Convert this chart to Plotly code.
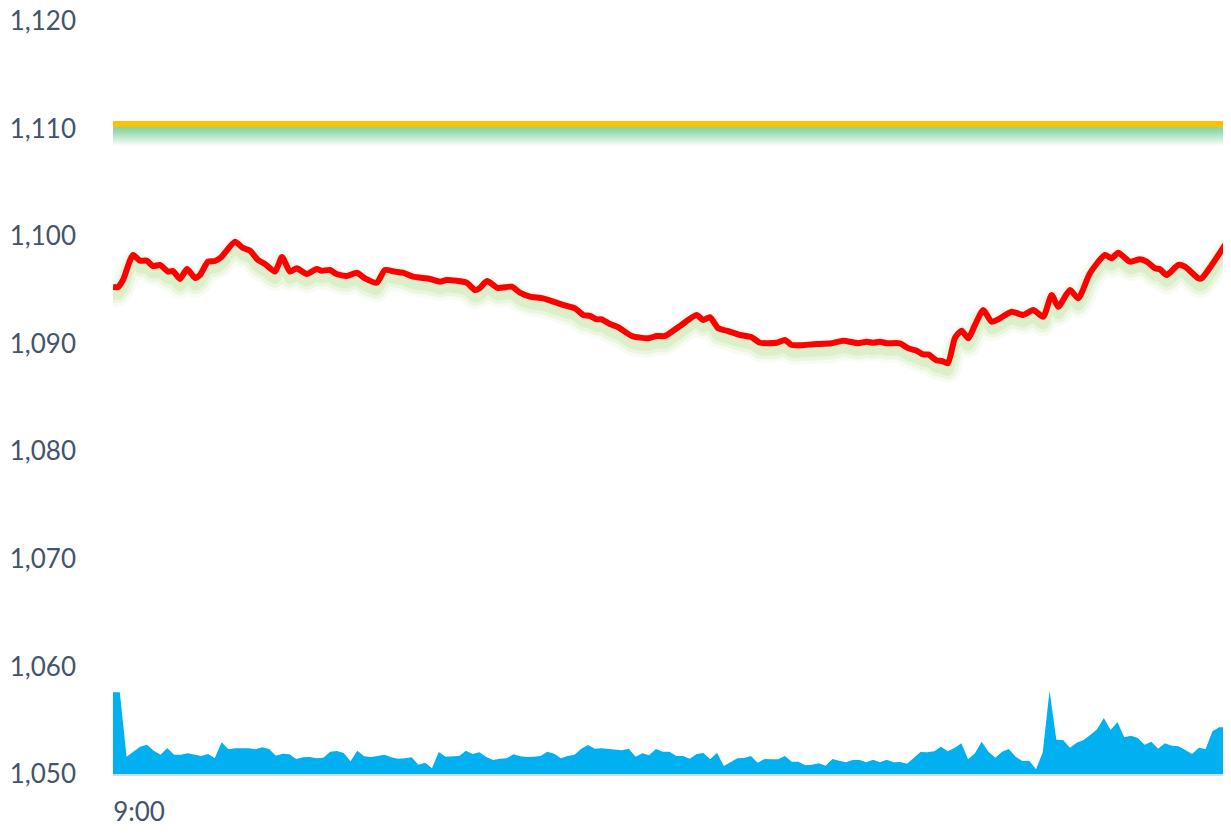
import plotly.graph_objects as go

# ---- data ----
vol_minutes = list(range(165))  # minutes after 9:00
volume = [
    76, 76, 16.1, 20.7, 25.4, 27.2, 21.7, 17.9, 24.2, 17.9,
    17.9, 19.3, 17.9, 16.7, 18.6, 14.9, 29.5, 23.0, 23.9, 23.9,
    23.9, 23.0, 24.8, 23.3, 17.0, 18.9, 18.3, 14.0, 15.5, 15.8,
    14.6, 15.2, 20.7, 21.4, 19.5, 11.8, 21.7, 16.5, 15.8, 16.7,
    17.9, 15.5, 14.2, 14.6, 15.5, 8.6, 10.5, 5.3, 20.5, 16.1,
    16.1, 16.7, 21.7, 18.6, 20.2, 15.8, 13.0, 14.2, 14.6, 18.3,
    16.5, 15.8, 16.1, 16.7, 20.7, 18.9, 14.6, 16.7, 17.9, 23.5,
    27.0, 23.5, 23.9, 23.3, 23.3, 22.0, 23.5, 16.1, 19.3, 17.4,
    23.3, 20.7, 20.7, 16.7, 16.7, 14.2, 18.6, 19.5, 13.7, 19.8,
    7.4, 10.9, 14.6, 14.9, 16.7, 10.5, 14.0, 13.7, 13.7, 16.7,
    11.4, 11.4, 8.1, 8.6, 10.0, 7.7, 14.0, 12.4, 10.9, 13.0,
    13.0, 10.9, 13.3, 10.9, 13.3, 10.9, 11.2, 9.6, 15.5, 20.5,
    20.2, 21.1, 25.4, 21.1, 24.2, 28.6, 13.7, 19.3, 30.0, 20.7,
    15.2, 20.7, 23.3, 16.1, 12.1, 12.4, 4.4, 20.2, 77.5, 31.9,
    31.6, 24.5, 29.1, 31.6, 36.3, 41.6, 52.1, 40.9, 48.4, 34.1,
    35.6, 33.5, 27.2, 30.0, 23.5, 28.6, 26.3, 25.8, 22.3, 18.6,
    24.5, 23.3, 39.7, 43.4, 43.7,
]

price_t = [
    0.0, 0.74, 1.47, 2.95, 3.98, 4.97, 5.89, 6.92, 8.10, 8.84,
    9.87, 10.90, 12.08, 12.82, 14.00, 15.03, 16.02, 17.98, 19.15, 20.19,
    21.36, 22.40, 23.87, 24.90, 26.08, 27.07, 28.54, 30.01, 30.75, 31.97,
    32.96, 34.43, 35.91, 37.13, 38.85, 40.08, 41.55, 42.73, 44.20, 46.71,
    48.18, 49.17, 52.11, 53.34, 54.07, 55.11, 56.73, 58.75, 59.97, 61.44,
    63.36, 65.37, 66.85, 68.07, 69.29, 70.28, 71.27, 72.00, 73.23, 74.45,
    76.43, 78.87, 80.11, 81.33, 83.54, 86.00, 86.97, 87.96, 89.19, 90.42,
    92.38, 94.11, 95.33, 97.79, 99.01, 100.00, 103.68, 105.89, 107.60, 109.81,
    111.05, 112.02, 113.01, 114.00, 115.96, 117.18, 118.42, 119.39, 120.13, 121.37,
    122.15, 123.03, 124.06, 125.05, 126.02, 127.01, 128.23, 129.47, 130.69, 132.42,
    134.12, 135.60, 137.07, 138.31, 139.28, 141.00, 142.23, 143.95, 146.16, 147.15,
    148.12, 149.85, 151.32, 152.31, 153.54, 154.27, 155.26, 156.97, 157.96, 159.92,
    160.42, 161.90, 163.86, 164.6,
]
price_v = [
    1095.27, 1095.27, 1095.92, 1098.25, 1097.72, 1097.72, 1097.22, 1097.32, 1096.70, 1096.76,
    1096.02, 1096.95, 1096.11, 1096.39, 1097.63, 1097.69, 1098.09, 1099.48, 1098.90, 1098.65,
    1097.78, 1097.41, 1096.70, 1098.06, 1096.70, 1097.01, 1096.48, 1096.95, 1096.79, 1096.85,
    1096.48, 1096.30, 1096.60, 1096.08, 1095.67, 1096.85, 1096.70, 1096.60, 1096.23, 1096.02,
    1095.77, 1095.92, 1095.67, 1094.99, 1095.18, 1095.83, 1095.18, 1095.30, 1094.74, 1094.37,
    1094.22, 1093.81, 1093.51, 1093.29, 1092.67, 1092.58, 1092.27, 1092.27, 1091.83, 1091.53,
    1090.72, 1090.50, 1090.72, 1090.72, 1091.65, 1092.67, 1092.20, 1092.46, 1091.43, 1091.21,
    1090.81, 1090.60, 1090.09, 1090.09, 1090.35, 1089.88, 1089.97, 1090.04, 1090.28, 1090.04,
    1090.19, 1090.09, 1090.19, 1090.04, 1090.04, 1089.57, 1089.35, 1089.00, 1089.00, 1088.44,
    1088.39, 1088.18, 1090.53, 1091.21, 1090.50, 1091.74, 1093.13, 1092.05, 1092.36, 1092.98,
    1092.67, 1093.13, 1092.51, 1094.53, 1093.44, 1094.99, 1094.22, 1096.55, 1098.25, 1097.94,
    1098.46, 1097.63, 1097.85, 1097.63, 1097.01, 1096.92, 1096.39, 1097.32, 1097.16, 1096.08,
    1096.08, 1097.32, 1099.18, 1099.80,
]

ref_level = 1110.43
y_ticks = [1050, 1060, 1070, 1080, 1090, 1100, 1110, 1120]
x_tick_vals = [0]
x_tick_text = ["9:00"]

# ---- styles ----
FONT = "Lato"
LABEL_COLOR = "#44546A"

fig = go.Figure()

# volume area
fig.add_trace(go.Scatter(
    x=vol_minutes, y=volume, yaxis="y2", mode="lines",
    line=dict(width=0, color="#00B0F0"), fill="tozeroy", fillcolor="#00B0F0",
    hoverinfo="skip", showlegend=False))

# glow under the reference line
x_ends = [vol_minutes[0], vol_minutes[-1]]
glow_top = ref_level - 0.2
glow_bot = ref_level - 2.1
fig.add_trace(go.Scatter(x=x_ends, y=[glow_top, glow_top], mode="lines",
                         line=dict(width=0), hoverinfo="skip", showlegend=False))
fig.add_trace(go.Scatter(
    x=x_ends, y=[glow_bot, glow_bot], mode="lines", line=dict(width=0),
    fill="tonexty",
    fillgradient=dict(type="vertical",
                      colorscale=[[0, "rgba(150,220,175,0)"], [0.4, "rgba(140,215,165,0.5)"],
                                  [0.75, "rgba(130,210,158,0.85)"], [1, "rgba(125,208,152,0.95)"]],
                      start=glow_bot, stop=glow_top),
    hoverinfo="skip", showlegend=False))

# glow under the price line
shifted = [v - 0.7 for v in price_v]
for w, a in [(24, 0.08), (17, 0.11), (10, 0.16)]:
    fig.add_trace(go.Scatter(
        x=price_t, y=shifted, mode="lines",
        line=dict(color=f"rgba(150,205,90,{a})", width=w, shape="spline", smoothing=0.6),
        hoverinfo="skip", showlegend=False))

# price line
fig.add_trace(go.Scatter(
    x=price_t, y=price_v, mode="lines",
    line=dict(color="#FF0000", width=6, shape="spline", smoothing=0.6),
    showlegend=False))

# reference line
fig.add_trace(go.Scatter(
    x=x_ends, y=[ref_level, ref_level], mode="lines",
    line=dict(color="#FFC000", width=6), showlegend=False))

fig.update_layout(
    width=1223, height=827,
    margin=dict(l=105, r=5, t=13, b=61, autoexpand=False),
    paper_bgcolor="white", plot_bgcolor="white",
    showlegend=False,
    xaxis=dict(range=[0, 164], tickvals=x_tick_vals, ticktext=x_tick_text,
               showgrid=False, zeroline=False, showline=True, automargin=False,
               linecolor="#D9D9D9", linewidth=2, ticks="",
               ticklabeloverflow="allow",
               tickfont=dict(family=FONT, size=26, color=LABEL_COLOR),
               ticklabelshift=26, ticklabelstandoff=14),
    yaxis=dict(range=[1050, 1120], tickvals=y_ticks, tickformat=",d",
               showgrid=False, zeroline=False, showline=False, ticks="",
               automargin=False, ticklabeloverflow="allow",
               tickfont=dict(family=FONT, size=26, color=LABEL_COLOR),
               ticklabelstandoff=36),
    yaxis2=dict(range=[0, 700], overlaying="y", visible=False),
)

fig.write_html("out.html")
